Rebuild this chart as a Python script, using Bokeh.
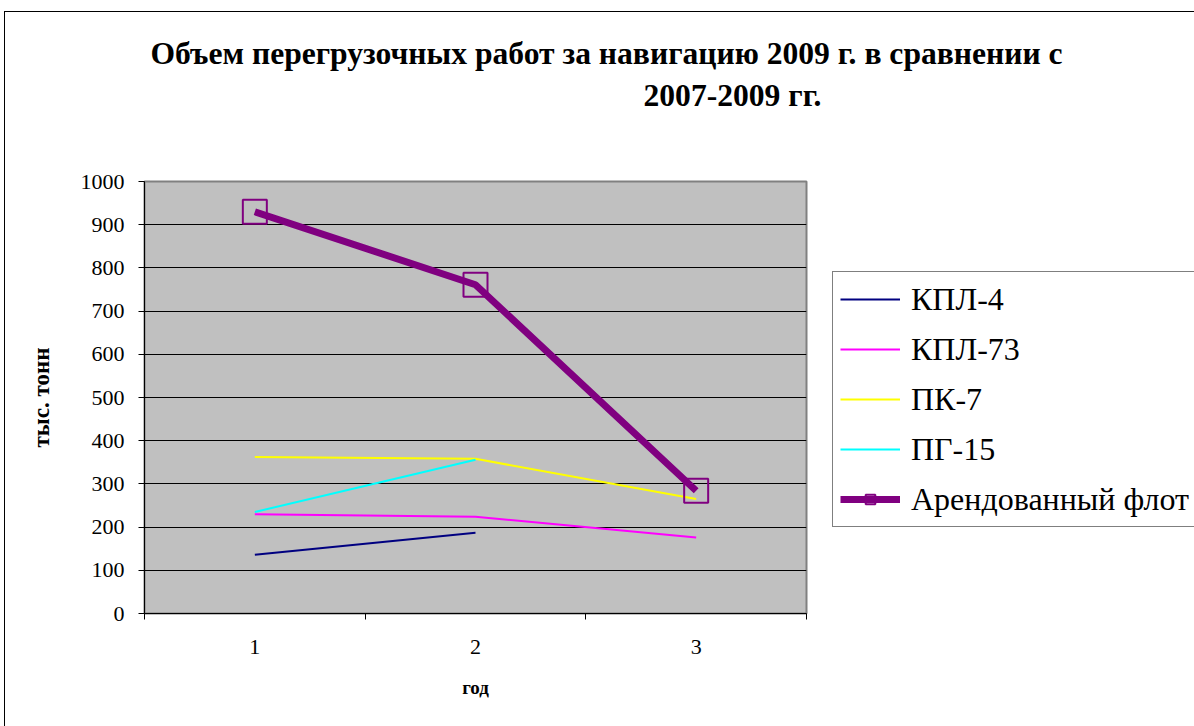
import numpy as np
from bokeh.plotting import figure
from bokeh.models import (Range1d, FixedTicker, Legend, LegendItem, Title,
                          ColumnDataSource)
from bokeh.embed import file_html
from bokeh.resources import INLINE

# ---- data ----
years = [1, 2, 3]
kpl4 = [136, 187, np.nan]
kpl73 = [230, 224, 176]
pk7 = [362, 358, 265]
pg15 = [235, 356, np.nan]
arenda = [930, 761, 284]

series_names = ["КПЛ-4", "КПЛ-73", "ПК-7", "ПГ-15", "Арендованный флот"]
y_ticks = [0, 100, 200, 300, 400, 500, 600, 700, 800, 900, 1000]
title_line1 = "Объем перегрузочных работ за навигацию 2009 г. в сравнении с"
title_line2 = "2007-2009 гг."
y_label = "тыс. тонн"
x_label = "год"

FONT = "Liberation Serif"

p = figure(frame_width=662, frame_height=432, output_backend="svg", toolbar_location=None,
           x_range=Range1d(0.5, 3.5), y_range=Range1d(0, 1000),
           min_border_left=139, min_border_right=388,
           min_border_top=169, min_border_bottom=113,
           background_fill_color="#C0C0C0", border_fill_color="white")
p.styles = {"border-left": "1px solid black", "border-top": "1px solid black",
            "margin-left": "4px", "margin-top": "11px"}

p.outline_line_color = "#808080"
p.outline_line_width = 2

# grid
p.xgrid.grid_line_color = None
p.ygrid.grid_line_color = "black"
p.ygrid.grid_line_width = 1
p.ygrid.ticker = FixedTicker(ticks=y_ticks)

# y axis
p.yaxis.ticker = FixedTicker(ticks=y_ticks)
p.yaxis.axis_line_color = "black"
p.yaxis.major_tick_line_color = "black"
p.yaxis.major_tick_out = 6
p.yaxis.major_tick_in = 0
p.yaxis.minor_tick_line_color = None
p.yaxis.major_label_text_font = FONT
p.yaxis.major_label_text_font_size = "22px"
p.yaxis.major_label_text_color = "black"
p.yaxis.major_label_standoff = 14
p.yaxis.axis_label = y_label
p.yaxis.axis_label_text_font = FONT
p.yaxis.axis_label_text_font_style = "bold"
p.yaxis.axis_label_text_font_size = "23px"
p.yaxis.axis_label_text_color = "black"
p.yaxis.axis_label_standoff = 24

# x axis
p.xaxis.ticker = FixedTicker(ticks=years, minor_ticks=[0.5, 1.5, 2.5, 3.5])
p.xaxis.axis_line_color = "black"
p.xaxis.major_tick_line_color = None
p.xaxis.major_tick_out = 0
p.xaxis.major_tick_in = 0
p.xaxis.minor_tick_line_color = "black"
p.xaxis.minor_tick_out = 6
p.xaxis.minor_tick_in = 0
p.xaxis.major_label_text_font = FONT
p.xaxis.major_label_text_font_size = "22px"
p.xaxis.major_label_text_color = "black"
p.xaxis.major_label_standoff = 20
p.xaxis.axis_label = x_label
p.xaxis.axis_label_text_font = FONT
p.xaxis.axis_label_text_font_style = "bold"
p.xaxis.axis_label_text_font_size = "19px"
p.xaxis.axis_label_text_color = "black"
p.xaxis.axis_label_standoff = 20

src = ColumnDataSource(dict(x=years, kpl4=kpl4, kpl73=kpl73, pk7=pk7, pg15=pg15, arenda=arenda))

r1 = p.line("x", "kpl4", source=src, color="#000080", line_width=2)
r2 = p.line("x", "kpl73", source=src, color="#FF00FF", line_width=2)
r3 = p.line("x", "pk7", source=src, color="#FFFF00", line_width=2)
r4 = p.line("x", "pg15", source=src, color="#00FFFF", line_width=2)
r5 = p.line("x", "arenda", source=src, color="#800080", line_width=7)
r6 = p.scatter("x", "arenda", source=src, marker="square", size=24,
               fill_color=None, line_color="#800080", line_width=2)

legend = Legend(items=[
    LegendItem(label=series_names[0], renderers=[r1]),
    LegendItem(label=series_names[1], renderers=[r2]),
    LegendItem(label=series_names[2], renderers=[r3]),
    LegendItem(label=series_names[3], renderers=[r4]),
    LegendItem(label=series_names[4], renderers=[r5, r6]),
], location=(26, 86))
legend.border_line_color = "black"
legend.border_line_width = 1
legend.background_fill_color = "white"
legend.background_fill_alpha = 1
legend.label_text_font = FONT
legend.label_text_font_size = "32px"
legend.label_text_color = "black"
legend.label_height = 40
legend.glyph_height = 24
legend.glyph_width = 60
legend.spacing = 10
legend.padding = 7
legend.margin = 0
legend.label_standoff = 11
p.add_layout(legend, "right")

# blank spacer between plot area and title
p.add_layout(Title(text=" ", standoff=62, text_font_size="2px"), "above")

# two-line title (second line added first: nearest to plot)
p.add_layout(Title(text=title_line2, align="left", offset=499, standoff=5,
                   text_font=FONT, text_font_size="31.6px", text_font_style="bold",
                   text_color="black"), "above")
p.add_layout(Title(text=title_line1, align="left", offset=6, standoff=5,
                   text_font=FONT, text_font_size="31.6px", text_font_style="bold",
                   text_color="black"), "above")

open("out.html", "w").write(file_html(p, INLINE))
